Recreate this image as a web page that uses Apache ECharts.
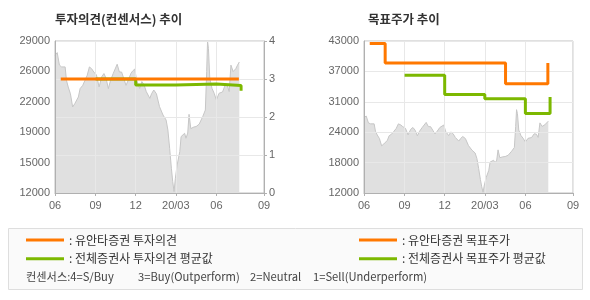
<!DOCTYPE html>
<html><head><meta charset="utf-8">
<script src="https://cdn.jsdelivr.net/npm/echarts@6/dist/echarts.min.js"></script>
<style>html,body{margin:0;padding:0;background:#fff}#c{width:590px;height:300px}</style>
</head><body><div id="c"></div>
<script>
// ---- data ----
const priceDates = ['2019-06-01','2019-06-06','2019-06-11','2019-06-16','2019-06-24','2019-06-27','2019-07-01','2019-07-06','2019-07-11','2019-07-16','2019-07-20','2019-07-24','2019-07-28','2019-08-03','2019-08-08','2019-08-13','2019-08-18','2019-08-23','2019-08-28','2019-09-03','2019-09-09','2019-09-15','2019-09-20','2019-09-25','2019-09-30','2019-10-05','2019-10-11','2019-10-15','2019-10-20','2019-10-25','2019-10-30','2019-11-04','2019-11-09','2019-11-14','2019-11-20','2019-11-24','2019-11-29','2019-12-03','2019-12-10','2019-12-15','2019-12-20','2019-12-25','2020-01-02','2020-01-06','2020-01-11','2020-01-17','2020-01-24','2020-02-01','2020-02-08','2020-02-12','2020-02-16','2020-02-20','2020-02-23','2020-02-26','2020-02-29','2020-03-04','2020-03-10','2020-03-13','2020-03-21','2020-03-24','2020-03-28','2020-03-31','2020-04-04','2020-04-11','2020-04-16','2020-04-23','2020-05-01','2020-05-07','2020-05-10','2020-05-12','2020-05-14','2020-05-17','2020-05-22','2020-05-27','2020-06-01','2020-06-07','2020-06-15','2020-06-21','2020-06-26','2020-06-30','2020-07-04','2020-07-09','2020-07-15','2020-07-19','2020-07-23'];
const priceValues = [27400,27700,26300,26100,26100,24600,23850,23100,21620,22000,21800,22740,23680,24040,24600,25160,26100,25900,25530,25200,23860,25000,25360,24800,23680,24600,25360,25530,26400,25530,25530,24800,24040,24600,25360,25640,25870,24600,23700,24460,24100,23340,22590,23100,23520,23100,21660,20720,20160,19050,17000,14760,13270,12160,13640,15130,16630,18310,18680,18120,18700,20800,19200,19380,19430,19700,20540,21280,25580,29000,28180,24830,23710,23150,22400,23150,23300,24080,24000,23340,26300,25580,25900,26300,26650];

const xTickDates = ['2019-06-01','2019-09-01','2019-12-01','2020-03-01','2020-06-01','2020-09-17'];
const xTickLabels = ['06','09','12','20/03','06','09'];
const priceTickLabelsLeft = ['12000','15000','19000','22000','26000','29000'];
const opinionTickLabels = ['0','1','2','3','4'];
const priceTickLabelsRight = ['12000','18000','24000','31000','37000','43000'];

const ourOpinionDates = ['2019-06-14','2019-07-19','2020-04-17','2020-07-22'];
const ourOpinionValues = [3,3,3,3];
const avgOpinionDates = ['2019-09-01','2019-12-01','2020-03-01','2020-06-01','2020-07-27'];
const avgOpinionValues = [3.0,2.84,2.87,2.83,2.69];
const ourTargetDates = ['2019-06-14','2019-07-19','2020-04-17','2020-07-22'];
const ourTargetValues = [42500,38500,34300,38500];
const avgTargetDates = ['2019-09-01','2019-12-01','2020-03-01','2020-06-01','2020-07-27'];
const avgTargetValues = [36000,32100,31200,28200,31600];

const seriesNames = ['유안타증권 투자의견','전체증권사 투자의견 평균값','유안타증권 목표주가','전체증권사 목표주가 평균값'];
const titles = ['투자의견(컨센서스) 추이','목표주가 추이'];
const footnoteParts = ['컨센서스:4=S/Buy','3=Buy(Outperform)','2=Neutral','1=Sell(Underperform)'];
const footnoteX = [26,138,250,313];

// ---- helpers (x = day number counted from the first tick date) ----
function toTime(s){const p=s.split('-');return Date.UTC(+p[0],+p[1]-1,+p[2]);}
const T0=toTime(xTickDates[0]);
function day(s){return Math.round((toTime(s)-T0)/86400000);}
function pairs(d,v){return d.map((x,i)=>[day(x),v[i]]);}
const xTickDays=xTickDates.map(day);
const ORANGE='#ff7800', GREEN='#7cb800';
const NUMFONT="'Liberation Sans', Arial, 'Noto Sans CJK KR', sans-serif";
const KRFONT="'Noto Sans CJK KR', sans-serif";

function xLabel(v){
  let best=0,bd=Infinity;
  xTickDays.forEach((d,i)=>{const dd=Math.abs(d-v); if(dd<bd){bd=dd;best=i;}});
  return xTickLabels[best];
}
function makeX(gi){
  return {type:'value',gridIndex:gi,min:xTickDays[0],max:xTickDays[xTickDays.length-1],z:3,
    axisLine:{show:true,onZero:false,lineStyle:{color:'#b0b0b0',width:1}},
    axisTick:{show:true,length:3,customValues:xTickDays,lineStyle:{color:'#b0b0b0'}},
    axisLabel:{customValues:xTickDays,formatter:xLabel,color:'#666',fontSize:11,fontFamily:NUMFONT,margin:7,showMinLabel:true,showMaxLabel:true},
    splitLine:{show:true,lineStyle:{color:'#e8e8e8',width:1}}};
}
const lblStyle={color:'#666',fontSize:11,fontFamily:NUMFONT};
const legendText={fontSize:12,color:'#333',fontFamily:KRFONT};

const chart=echarts.init(document.getElementById('c'),null,{renderer:'canvas'});
chart.setOption({
  animation:false,
  backgroundColor:'#fff',
  title:[
    {text:titles[0],left:55,top:13,padding:0,textStyle:{fontSize:12.5,fontWeight:'bold',color:'#333',fontFamily:KRFONT}},
    {text:titles[1],left:368,top:13,padding:0,textStyle:{fontSize:12.5,fontWeight:'bold',color:'#333',fontFamily:KRFONT}}
  ],
  grid:[
    {left:55,top:41,width:209,height:152,show:true,borderColor:'#c0c0c0',borderWidth:1,backgroundColor:'transparent'},
    {left:364,top:41,width:209,height:152,show:true,borderColor:'#c0c0c0',borderWidth:1,backgroundColor:'transparent'}
  ],
  xAxis:[makeX(0),makeX(1)],
  yAxis:[
    {type:'value',gridIndex:0,position:'left',min:12000,max:29000,interval:3400,z:3,
      axisLine:{show:true,lineStyle:{color:'#b0b0b0'}},axisTick:{show:false},splitLine:{show:false},
      axisLabel:Object.assign({margin:5,formatter:(v,i)=>priceTickLabelsLeft[i]},lblStyle)},
    {type:'value',gridIndex:0,position:'right',min:0,max:4,interval:1,z:3,
      axisLine:{show:true,lineStyle:{color:'#b0b0b0'}},axisTick:{show:true,length:3,lineStyle:{color:'#b0b0b0'}},
      splitLine:{show:true,lineStyle:{color:'#e8e8e8'}},
      axisLabel:Object.assign({margin:5,formatter:(v,i)=>opinionTickLabels[i]},lblStyle)},
    {type:'value',gridIndex:1,position:'left',min:12000,max:43000,interval:6200,z:3,
      axisLine:{show:true,lineStyle:{color:'#b0b0b0'}},axisTick:{show:false},
      splitLine:{show:true,lineStyle:{color:'#e8e8e8'}},
      axisLabel:Object.assign({margin:5,formatter:(v,i)=>priceTickLabelsRight[i]},lblStyle)}
  ],
  legend:[
    {data:[seriesNames[0],seriesNames[1]],orient:'vertical',left:26,top:234,padding:0,icon:'rect',itemWidth:38,itemHeight:3,itemGap:6.8,
      selectedMode:false,formatter:': {name}',textStyle:legendText},
    {data:[seriesNames[2],seriesNames[3]],orient:'vertical',left:359,top:234,padding:0,icon:'rect',itemWidth:38,itemHeight:3,itemGap:6.8,
      selectedMode:false,formatter:': {name}',textStyle:legendText}
  ],
  graphic:[
    {type:'rect',left:8,top:228,z:-10,shape:{width:574,height:61},style:{fill:'#fafafa',stroke:'#dedede',lineWidth:1}}
  ].concat(footnoteParts.map((t,i)=>({type:'text',left:footnoteX[i],top:271,z:10,
      style:{text:t,fill:'#444',fontSize:11.2,fontFamily:KRFONT}}))),
  series:[
    {type:'line',name:'주가1',xAxisIndex:0,yAxisIndex:0,data:pairs(priceDates,priceValues),symbol:'none',z:1,
      lineStyle:{color:'#c6c6c6',width:1},areaStyle:{color:'#e0e0e0',opacity:1},silent:true},
    {type:'line',name:seriesNames[1],xAxisIndex:0,yAxisIndex:1,data:pairs(avgOpinionDates,avgOpinionValues),step:'end',symbol:'none',z:5,
      color:GREEN,lineStyle:{color:GREEN,width:3},itemStyle:{color:GREEN}},
    {type:'line',name:seriesNames[0],xAxisIndex:0,yAxisIndex:1,data:pairs(ourOpinionDates,ourOpinionValues),step:'end',symbol:'none',z:6,
      color:ORANGE,lineStyle:{color:ORANGE,width:3},itemStyle:{color:ORANGE}},
    {type:'line',name:'주가2',xAxisIndex:1,yAxisIndex:2,data:pairs(priceDates,priceValues),symbol:'none',z:1,
      lineStyle:{color:'#c6c6c6',width:1},areaStyle:{color:'#e0e0e0',opacity:1},silent:true},
    {type:'line',name:seriesNames[3],xAxisIndex:1,yAxisIndex:2,data:pairs(avgTargetDates,avgTargetValues),step:'end',symbol:'none',z:5,
      color:GREEN,lineStyle:{color:GREEN,width:3},itemStyle:{color:GREEN}},
    {type:'line',name:seriesNames[2],xAxisIndex:1,yAxisIndex:2,data:pairs(ourTargetDates,ourTargetValues),step:'end',symbol:'none',z:6,
      color:ORANGE,lineStyle:{color:ORANGE,width:3},itemStyle:{color:ORANGE}}
  ]
});
</script></body></html>
